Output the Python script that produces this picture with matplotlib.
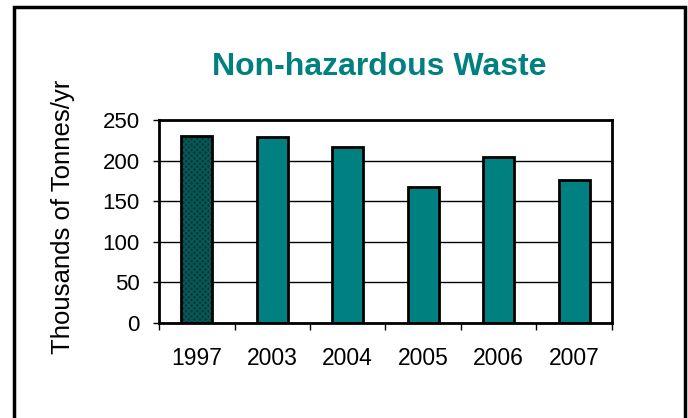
import matplotlib.pyplot as plt
import matplotlib.patches as patches
import numpy as np

plt.rcParams['font.family'] = ['Liberation Sans', 'DejaVu Sans']

# Data
years = ['1997', '2003', '2004', '2005', '2006', '2007']
waste = [230, 229, 217, 168, 204, 176]

teal = '#008080'
dark = '#003c3c'

fig = plt.figure(figsize=(6.88, 4.18), dpi=100)
ax = fig.add_axes([159 / 688, 95 / 418, 453 / 688, 203 / 418])

x = np.arange(len(years))
colors = [dark] + [teal] * (len(years) - 1)

# fill, then hatch texture on the first bar, then black outlines
ax.bar(x, waste, width=0.41, color=colors, linewidth=0, zorder=2)
ax.bar(x[:1], waste[:1], width=0.41, color='none', hatch='xxxxxx',
       edgecolor='#0b5a5a', linewidth=0, zorder=2)
ax.bar(x, waste, width=0.41, color='none', edgecolor='black',
       linewidth=2, zorder=3)

ax.set_xlim(-0.5, len(years) - 0.5)
ax.set_ylim(0, 250)
ax.set_yticks(np.arange(0, 251, 50))
ax.tick_params(axis='y', labelsize=16, length=4, width=1, pad=10, direction='out')

# labels at centres, tick marks between categories
ax.set_xticks(x)
ax.set_xticklabels(years)
ax.tick_params(axis='x', which='major', length=0, labelsize=16.5, pad=17)
ax.set_xticks(np.arange(-0.5, len(years)), minor=True)
ax.tick_params(axis='x', which='minor', length=5, width=1, direction='out')

ax.grid(axis='y', color='black', linewidth=1, zorder=0)
ax.set_axisbelow(True)
for s in ax.spines.values():
    s.set_linewidth(2)
    s.set_color('black')

fig.text(379 / 688, 1 - 75 / 418, 'Non-hazardous Waste', color=teal,
         fontsize=23, fontweight='bold', ha='center', va='baseline')
fig.text(63 / 688, 1 - 217 / 418, 'Thousands of Tonnes/yr', rotation=90,
         fontsize=18.5, ha='center', va='center')

# outer chart border
fig.patches.append(patches.Rectangle((14 / 688, -0.05), 671 / 688, 1.05 - 7 / 418,
                                     transform=fig.transFigure, fill=False,
                                     edgecolor='black', linewidth=2.5))

plt.savefig('out.png', dpi=100)
